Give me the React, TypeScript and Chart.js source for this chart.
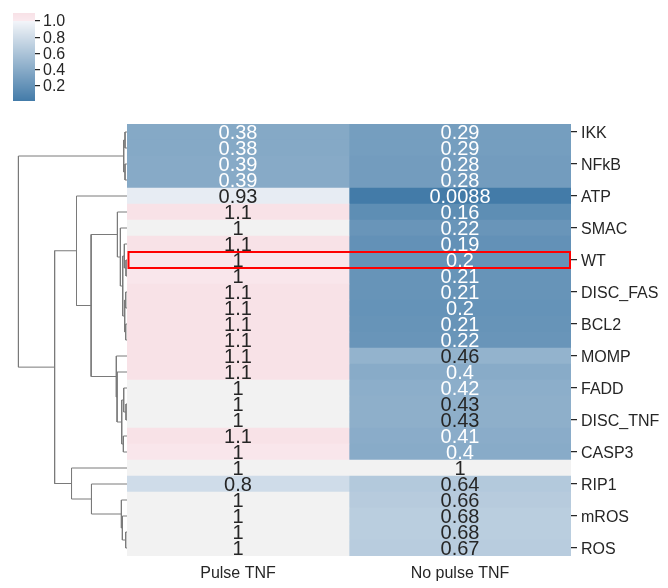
import React, { useEffect, useRef } from 'react';
import { Chart, registerables } from 'chart.js';

Chart.register(...registerables);

const FONT = '"Liberation Sans", Arial, Helvetica, sans-serif';
const NARROW_FONT = '"Liberation Sans Narrow", "Arial Narrow", "Liberation Sans", Arial, sans-serif';
const TEXT_DARK = '#262626';

// Conditions (columns) and the labelled rows; labels sit on every other row.
const columnLabels = ['Pulse TNF', 'No pulse TNF'];
const rowTickLabels = [
  'IKK', 'NFkB', 'ATP', 'SMAC', 'WT', 'DISC_FAS', 'BCL2',
  'MOMP', 'FADD', 'DISC_TNF', 'CASP3', 'RIP1', 'mROS', 'ROS',
];
const highlightLabel = 'WT';

// Relative response per row, in clustered order.
const pulseTNF = [
  0.38, 0.38, 0.39, 0.39, 0.93, 1.1, 1, 1.1, 1.049, 1.049, 1.1, 1.1, 1.1, 1.1,
  1.1, 1.1, 1, 1, 1, 1.1, 1.049, 1, 0.8, 1, 1, 1, 1,
];
const noPulseTNF = [
  0.29, 0.29, 0.28, 0.28, 0.0088, 0.16, 0.22, 0.19, 0.2, 0.21, 0.21, 0.2, 0.21, 0.22,
  0.46, 0.4, 0.42, 0.43, 0.43, 0.41, 0.4, 1, 0.64, 0.66, 0.68, 0.68, 0.67,
];

// Row linkage: each merge joins two ids at a height. Ids below the row count
// are rows; id rowCount + k is the cluster made by merge k.
const linkLeft = [0, 2, 27, 8, 7, 10, 12, 32, 31, 6, 5, 17, 16, 19, 39, 15, 14, 37, 4, 25, 24, 23, 22, 21, 45, 29];
const linkRight = [1, 3, 28, 9, 30, 11, 13, 33, 34, 35, 36, 18, 38, 20, 40, 41, 42, 43, 44, 26, 46, 47, 48, 49, 50, 51];
const linkHeight = [
  0.012, 0.012, 0.02, 0.006, 0.016, 0.008, 0.008, 0.014, 0.026, 0.04, 0.058,
  0.006, 0.02, 0.022, 0.032, 0.06, 0.0645, 0.217, 0.3055, 0.008, 0.028, 0.034,
  0.215, 0.3357, 0.438, 0.657,
];

const colorbarTicks = [0.2, 0.4, 0.6, 0.8, 1.0];

const columns = [pulseTNF, noPulseTNF];
const rowCount = pulseTNF.length;
const allValues = [...pulseTNF, ...noPulseTNF];
const vmin = Math.min(...allValues);
const vmax = Math.max(...allValues);
const CENTER = 1;

// Diverging palette: blue below the centre, light grey at it, pink above.
const NEG_END = [67, 123, 168];
const NEG_LIGHT = [243, 245, 249];
const MID = [242, 242, 242];
const POS_LIGHT = [250, 234, 238];
const POS_END = [230, 154, 168];

function cmap(v: number): number[] {
  const vrange = Math.max(vmax - CENTER, CENTER - vmin);
  const t = (v - CENTER) / vrange;
  if (Math.abs(t) < 1 / 255) return MID;
  const [a, b] = t < 0 ? [NEG_LIGHT, NEG_END] : [POS_LIGHT, POS_END];
  const f = Math.min(1, Math.abs(t));
  return a.map((c, i) => Math.round(c + (b[i] - c) * f));
}

const rgb = (c: number[]) => `rgb(${c[0]},${c[1]},${c[2]})`;

function luminance(c: number[]): number {
  const lin = (x: number) => {
    const s = x / 255;
    return s <= 0.03928 ? s / 12.92 : Math.pow((s + 0.055) / 1.055, 2.4);
  };
  return 0.2126 * lin(c[0]) + 0.7152 * lin(c[1]) + 0.0722 * lin(c[2]);
}

const textColorFor = (v: number) => (luminance(cmap(v)) > 0.404 ? TEXT_DARK : '#ffffff');
const formatValue = (v: number) => String(Number(v.toPrecision(2)));

const cellTextPlugin = {
  id: 'cellText',
  afterDatasetsDraw(chart: any) {
    const { ctx, chartArea } = chart;
    ctx.save();
    ctx.font = `20px ${NARROW_FONT}`;
    ctx.textAlign = 'center';
    ctx.textBaseline = 'middle';
    columns.forEach((vals, di) => {
      const meta = chart.getDatasetMeta(di);
      meta.data.forEach((bar: any, i: number) => {
        const { x, y, base } = bar.getProps(['x', 'y', 'base'], true);
        ctx.fillStyle = textColorFor(vals[i]);
        ctx.fillText(formatValue(vals[i]), (x + base) / 2, y + 1);
      });
    });
    const hiRow = rowTickLabels.indexOf(highlightLabel) * 2;
    const hiBar = chart.getDatasetMeta(0).data[hiRow];
    if (hiBar) {
      const { y, height } = hiBar.getProps(['y', 'height'], true);
      ctx.strokeStyle = '#ff0000';
      ctx.lineWidth = 2;
      ctx.strokeRect(chartArea.left + 1.5, y - height / 2, chartArea.width - 2.5, height);
    }
    ctx.restore();
  },
};

const colorbarFillPlugin = {
  id: 'colorbarFill',
  beforeDatasetsDraw(chart: any) {
    const { ctx, chartArea } = chart;
    const yScale = chart.scales.y;
    ctx.save();
    for (let py = Math.floor(chartArea.top); py < chartArea.bottom; py++) {
      const v = yScale.getValueForPixel(py + 0.5);
      ctx.fillStyle = rgb(cmap(v));
      ctx.fillRect(chartArea.left, py, chartArea.width, 1);
    }
    ctx.restore();
  },
};

export default function App() {
  const heatRef = useRef<HTMLCanvasElement>(null);
  const treeRef = useRef<HTMLCanvasElement>(null);
  const barRef = useRef<HTMLCanvasElement>(null);

  useEffect(() => {
    Chart.defaults.font.family = FONT;
    const tickFont = { size: 16, family: FONT };

    const heat = new Chart(heatRef.current!, {
      type: 'bar',
      data: {
        labels: pulseTNF.map((_, i) => String(i)),
        datasets: columns.map((vals, ci) => ({
          data: vals.map(() => [ci, ci + 1]),
          backgroundColor: vals.map((v) => rgb(cmap(v))),
          borderWidth: 0,
          grouped: false,
          barPercentage: 1,
          categoryPercentage: 1,
        })) as any,
      },
      options: {
        indexAxis: 'y',
        responsive: false,
        animation: false,
        events: [],
        layout: { padding: 0 },
        plugins: { legend: { display: false }, tooltip: { enabled: false } },
        scales: {
          x: {
            type: 'linear',
            min: 0,
            max: 2,
            position: 'bottom',
            grid: { display: false, drawTicks: false },
            border: { display: false },
            afterBuildTicks: (s: any) => {
              s.ticks = columnLabels.map((_, i) => ({ value: i + 0.5 }));
            },
            ticks: {
              autoSkip: false,
              maxRotation: 0,
              padding: 8,
              color: TEXT_DARK,
              font: tickFont,
              callback: (_v: any, i: number) => columnLabels[i],
            },
            afterFit: (s: any) => {
              s.height = 32;
              s.paddingLeft = 0;
              s.paddingRight = 0;
            },
          },
          y: {
            type: 'category',
            position: 'right',
            offset: true,
            grid: {
              offset: false,
              drawOnChartArea: false,
              drawTicks: true,
              tickLength: 6,
              lineWidth: 1.25,
              color: (c: any) => (c.index % 2 === 0 ? TEXT_DARK : 'rgba(0,0,0,0)'),
            },
            border: { display: false },
            ticks: {
              autoSkip: false,
              padding: 4,
              labelOffset: 1.5,
              color: TEXT_DARK,
              font: tickFont,
              callback: (_v: any, i: number) => (i % 2 === 0 ? rowTickLabels[i / 2] : ''),
            },
            afterFit: (s: any) => {
              s.width = 97;
              s.paddingTop = 0;
              s.paddingBottom = 0;
            },
          },
        },
      } as any,
      plugins: [cellTextPlugin],
    });

    // dendrogram geometry from the linkage
    const posY: number[] = pulseTNF.map((_, i) => i);
    const posH: number[] = pulseTNF.map(() => 0);
    linkLeft.forEach((l, k) => {
      const r = linkRight[k];
      posY.push((posY[l] + posY[r]) / 2);
      posH.push(linkHeight[k]);
    });
    const treeSets = linkLeft.map((l, k) => {
      const r = linkRight[k];
      const h = linkHeight[k];
      return {
        data: [
          { x: posH[l], y: posY[l] },
          { x: h, y: posY[l] },
          { x: h, y: posY[r] },
          { x: posH[r], y: posY[r] },
        ],
        showLine: true,
        borderColor: '#7a7a7a',
        borderWidth: 1,
        pointRadius: 0,
        tension: 0,
        clip: false,
      };
    });
    const tree = new Chart(treeRef.current!, {
      type: 'scatter',
      data: { datasets: treeSets as any },
      options: {
        responsive: false,
        animation: false,
        events: [],
        layout: { padding: 0 },
        plugins: { legend: { display: false }, tooltip: { enabled: false } },
        scales: {
          x: { type: 'linear', min: 0, max: Math.max(...linkHeight) * 1.05, reverse: true, display: false },
          y: { type: 'linear', min: -0.5, max: rowCount - 0.5, reverse: true, display: false },
        },
      } as any,
    });

    const bar = new Chart(barRef.current!, {
      type: 'bar',
      data: { labels: [''], datasets: [] },
      options: {
        responsive: false,
        animation: false,
        events: [],
        layout: { padding: 0 },
        plugins: { legend: { display: false }, tooltip: { enabled: false } },
        scales: {
          x: { display: false },
          y: {
            type: 'linear',
            position: 'right',
            min: vmin,
            max: vmax,
            grid: { drawOnChartArea: false, drawTicks: true, tickLength: 5, color: TEXT_DARK, lineWidth: 1.25 },
            border: { display: false },
            afterBuildTicks: (s: any) => {
              s.ticks = colorbarTicks.map((value) => ({ value }));
            },
            ticks: {
              autoSkip: false,
              padding: 3,
              labelOffset: 1,
              color: TEXT_DARK,
              font: { size: 16, family: FONT },
              callback: (v: any) => Number(v).toFixed(1),
            },
            afterFit: (s: any) => {
              s.width = 68;
              s.paddingTop = 0;
              s.paddingBottom = 0;
            },
          },
        },
      } as any,
      plugins: [colorbarFillPlugin],
    });

    return () => {
      heat.destroy();
      tree.destroy();
      bar.destroy();
    };
  }, []);

  return (
    <div
      style={{
        position: 'absolute',
        left: 0,
        top: 0,
        width: 668,
        height: 588,
        background: '#ffffff',
        overflow: 'hidden',
      }}
    >
      <canvas ref={barRef} width={90} height={88} style={{ position: 'absolute', left: 13, top: 13 }} />
      <canvas ref={treeRef} width={114} height={432} style={{ position: 'absolute', left: 13, top: 124 }} />
      <canvas ref={heatRef} width={541} height={464} style={{ position: 'absolute', left: 127, top: 124 }} />
    </div>
  );
}
